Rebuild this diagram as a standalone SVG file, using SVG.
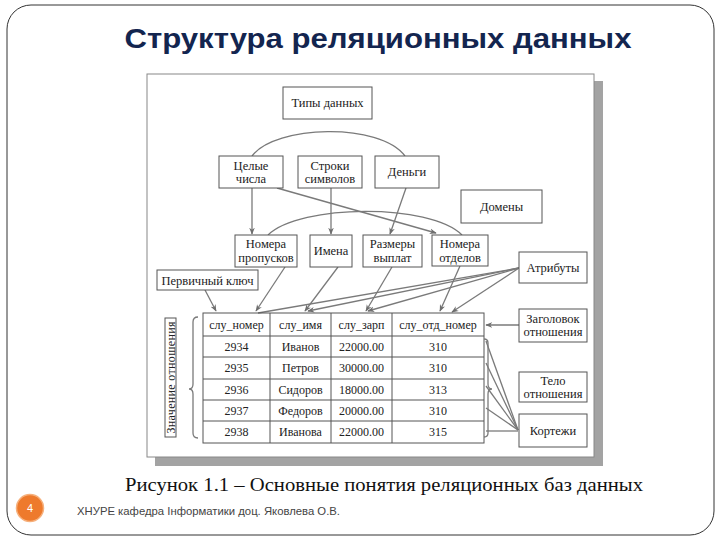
<svg xmlns="http://www.w3.org/2000/svg" width="720" height="540" viewBox="0 0 720 540">
<defs>
<marker id="ah" viewBox="0 0 10 10" refX="9" refY="5" markerWidth="7" markerHeight="7" orient="auto" markerUnits="userSpaceOnUse">
<path d="M0,1 L10,5 L0,9 L3,5 Z" fill="#6e6e6e"/>
</marker>
<style>
.box{fill:#fff;stroke:#555;stroke-width:1}
.t{font-family:"Liberation Serif","Times New Roman",serif;font-size:12.5px;fill:#222;text-anchor:middle}
.tt{font-family:"Liberation Serif","Times New Roman",serif;font-size:12px;fill:#222;text-anchor:middle}
.ln{fill:none;stroke:#7a7a7a;stroke-width:1.3}
.la{fill:none;stroke:#7a7a7a;stroke-width:1.3;marker-end:url(#ah)}
.grid{fill:none;stroke:#555;stroke-width:1}
</style>
</defs>
<rect x="0" y="0" width="720" height="540" fill="#fff"/>
<rect x="7" y="5" width="707" height="530" rx="24" ry="24" fill="#fff" stroke="#333" stroke-width="1"/>
<text x="378" y="48" font-family="'Liberation Sans',Arial,sans-serif" font-weight="bold" font-size="27" fill="#13254f" text-anchor="middle" textLength="507" lengthAdjust="spacingAndGlyphs">Структура реляционных данных</text>

<g id="figure-frame">
<rect x="155" y="81" width="448" height="385" fill="#a3a3a3"/>
<rect x="147" y="74" width="447" height="383" fill="#fff" stroke="#888" stroke-width="1"/>
</g>

<g id="connectors">
<path class="ln" d="M252,156 C275,125 380,122 405,156"/>
<path class="la" d="M252,188 L252,234"/>
<path class="la" d="M331,188 L331,234"/>
<path class="la" d="M406,188 L390,234"/>
<path class="la" d="M277,188 L436,233"/>
<path class="ln" d="M268,235 C300,204 430,203 462,235"/>
<path class="la" d="M285,267 L256,311"/>
<path class="la" d="M338,267 L305,311"/>
<path class="la" d="M392,267 L366,311"/>
<path class="la" d="M460,266 L440,311"/>
<path class="la" d="M205,290 L216,311"/>
<path class="ln" d="M519,268 L258,313"/>
<path class="la" d="M519,268 L308,311"/>
<path class="la" d="M519,268 L368,311"/>
<path class="la" d="M519,268 L452,312"/>
<path class="la" d="M519,325 L486,325"/>
<path class="ln" d="M518,430 L486,341"/>
<path class="ln" d="M518,430 L486,363"/>
<path class="ln" d="M518,430 L486,386"/>
<path class="ln" d="M518,430 L486,408"/>
<path class="ln" d="M518,431 L486,431" stroke-width="2"/>
</g>

<g id="types">
<rect class="box" x="283" y="87" width="89" height="32"/>
<text class="t" x="327.5" y="107">Типы данных</text>
</g>
<g id="int">
<rect class="box" x="219" y="156" width="64" height="32"/>
<text class="t" x="251" y="169.5">Целые</text>
<text class="t" x="251" y="183">числа</text>
</g>
<g id="str">
<rect class="box" x="298" y="156" width="64" height="32"/>
<text class="t" x="330" y="169.5">Строки</text>
<text class="t" x="330" y="183">символов</text>
</g>
<g id="money">
<rect class="box" x="375" y="156" width="64" height="32"/>
<text class="t" x="407" y="176">Деньги</text>
</g>
<g id="domains">
<rect class="box" x="461" y="190" width="81" height="33"/>
<text class="t" x="501.5" y="211">Домены</text>
</g>
<g id="passnum">
<rect class="box" x="235" y="235" width="62" height="32"/>
<text class="t" x="266" y="248">Номера</text>
<text class="t" x="266" y="261.5">пропусков</text>
</g>
<g id="names">
<rect class="box" x="310" y="235" width="42" height="32"/>
<text class="t" x="331" y="255">Имена</text>
</g>
<g id="pay">
<rect class="box" x="363" y="235" width="59" height="32"/>
<text class="t" x="392.5" y="248">Размеры</text>
<text class="t" x="392.5" y="261.5">выплат</text>
</g>
<g id="deptnum">
<rect class="box" x="432" y="235" width="56" height="31"/>
<text class="t" x="460" y="248">Номера</text>
<text class="t" x="460" y="261.5">отделов</text>
</g>
<g id="pk">
<rect class="box" x="157" y="270" width="101" height="20"/>
<text class="t" x="207.5" y="284.5">Первичный ключ</text>
</g>
<g id="attrs">
<rect class="box" x="519" y="252" width="68" height="31"/>
<text class="t" x="553" y="272">Атрибуты</text>
</g>
<g id="header">
<rect class="box" x="519" y="309" width="68" height="33"/>
<text class="t" x="553" y="322.5">Заголовок</text>
<text class="t" x="553" y="336">отношения</text>
</g>
<g id="body">
<rect class="box" x="519" y="372" width="68" height="30"/>
<text class="t" x="553" y="385">Тело</text>
<text class="t" x="553" y="398">отношения</text>
</g>
<g id="tuples">
<rect class="box" x="519" y="414" width="68" height="33"/>
<text class="t" x="553" y="434.5">Кортежи</text>
</g>

<g id="relation-value">
<rect class="box" x="165" y="318" width="11" height="119"/>
<text class="tt" transform="translate(174.5,377.5) rotate(-90)" x="0" y="0" font-size="11" textLength="112" lengthAdjust="spacing">Значение отношения</text>
<path class="ln" stroke-width="1" d="M198,317 Q193,317 193,322 L193,384 Q193,389 189,389 Q193,389 193,394 L193,433 Q193,438 198,438"/>
</g>

<g id="table">
<rect class="grid" x="203" y="313" width="281" height="130"/>
<path class="grid" d="M270,313 V443 M331,313 V443 M392,313 V443 M203,336 H484 M203,357 H484 M203,379 H484 M203,400 H484 M203,421 H484"/>
<text class="tt" x="236.5" y="329">слу_номер</text>
<text class="tt" x="300.5" y="329">слу_имя</text>
<text class="tt" x="361.5" y="329">слу_зарп</text>
<text class="tt" x="438" y="329">слу_отд_номер</text>
<text class="tt" x="236.5" y="351">2934</text><text class="tt" x="300.5" y="351">Иванов</text><text class="tt" x="361.5" y="351">22000.00</text><text class="tt" x="438" y="351">310</text>
<text class="tt" x="236.5" y="372">2935</text><text class="tt" x="300.5" y="372">Петров</text><text class="tt" x="361.5" y="372">30000.00</text><text class="tt" x="438" y="372">310</text>
<text class="tt" x="236.5" y="393.5">2936</text><text class="tt" x="300.5" y="393.5">Сидоров</text><text class="tt" x="361.5" y="393.5">18000.00</text><text class="tt" x="438" y="393.5">313</text>
<text class="tt" x="236.5" y="414.5">2937</text><text class="tt" x="300.5" y="414.5">Федоров</text><text class="tt" x="361.5" y="414.5">20000.00</text><text class="tt" x="438" y="414.5">310</text>
<text class="tt" x="236.5" y="436">2938</text><text class="tt" x="300.5" y="436">Иванова</text><text class="tt" x="361.5" y="436">22000.00</text><text class="tt" x="438" y="436">315</text>
<path class="ln" stroke-width="1" d="M484,339 Q488,339 488,343 L488,384 Q488,389 492,389 Q488,389 488,394 L488,433 Q488,437 484,437"/>
</g>

<text x="384" y="491" font-family="'Liberation Serif','DejaVu Serif',serif" font-size="19" fill="#111" text-anchor="middle" textLength="518" lengthAdjust="spacingAndGlyphs">Рисунок 1.1 – Основные понятия реляционных баз данных</text>
<g id="page-num">
<circle cx="30" cy="508" r="13.5" fill="#ee7a2c" stroke="#f6b07c" stroke-width="1.5"/>
<text x="30" y="512" font-family="'Liberation Sans',Arial,sans-serif" font-size="11" fill="#fff" text-anchor="middle">4</text>
</g>
<text x="77" y="515" font-family="'Liberation Sans',Arial,sans-serif" font-size="11" fill="#444" textLength="263" lengthAdjust="spacingAndGlyphs">ХНУРЕ кафедра Інформатики доц. Яковлева О.В.</text>
</svg>
